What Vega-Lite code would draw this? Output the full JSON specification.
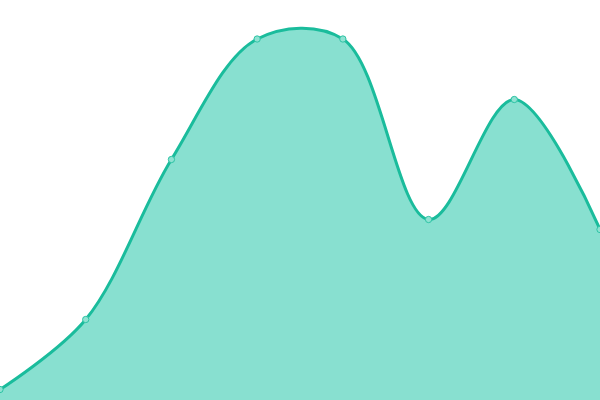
{
  "$schema": "https://vega.github.io/schema/vega-lite/v6.json",
  "width": 600,
  "height": 400,
  "autosize": {"type": "none"},
  "padding": 0,
  "background": "white",
  "config": {"view": {"stroke": null}},
  "data": {
    "values": [
      {"i": 0, "v": 10.5},
      {"i": 1, "v": 80.5},
      {"i": 2, "v": 240.5},
      {"i": 3, "v": 361},
      {"i": 4, "v": 361},
      {"i": 5, "v": 180.5},
      {"i": 6, "v": 300.5},
      {"i": 7, "v": 170.5}
    ]
  },
  "encoding": {
    "x": {"field": "i", "type": "quantitative", "scale": {"domain": [0, 7], "nice": false, "zero": false}, "axis": null},
    "y": {"field": "v", "type": "quantitative", "scale": {"domain": [0, 400], "nice": false}, "axis": null}
  },
  "layer": [
    {"mark": {"type": "area", "interpolate": "catmull-rom", "color": "#88e0d0", "opacity": 1}},
    {"mark": {"type": "line", "interpolate": "catmull-rom", "color": "#1abc9c", "strokeWidth": 3}},
    {"mark": {"type": "point", "filled": true, "fill": "#8fe2d2", "stroke": "#2ec4a5", "strokeWidth": 1, "size": 40, "opacity": 1}}
  ]
}
